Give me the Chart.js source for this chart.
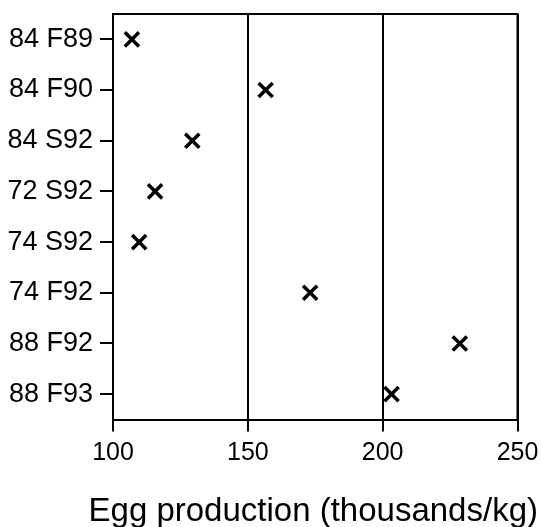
<!DOCTYPE html>
<html><head><meta charset="utf-8">
<script src="https://cdn.jsdelivr.net/npm/chart.js@4"></script>
<style>html,body{margin:0;padding:0;background:#fff}canvas{display:block}</style>
</head><body>
<canvas id="c" width="541" height="527"></canvas>
<script>
const categories = ['84 F89','84 F90','84 S92','72 S92','74 S92','74 F92','88 F92','88 F93'];
const eggProduction = [107, 156.6, 129.4, 115.6, 109.7, 173.1, 228.6, 203.3];
const xTicks = [100, 150, 200, 250];
const xTitle = 'Egg production (thousands/kg)';

const FONT = '"Liberation Sans", Arial, Helvetica, sans-serif';

const framePlugin = {
  id: 'frame',
  afterDatasetsDraw(chart) {
    const {ctx, chartArea: a} = chart;
    ctx.save();
    ctx.strokeStyle = '#000';
    ctx.lineWidth = 2;
    ctx.beginPath();
    ctx.moveTo(a.left - 1, a.top);
    ctx.lineTo(a.right, a.top);
    ctx.lineTo(a.right, a.bottom);
    ctx.stroke();
    ctx.restore();
  },
  afterDraw(chart) {
    const {ctx, chartArea: a} = chart;
    ctx.save();
    ctx.fillStyle = '#000';
    ctx.font = '33px ' + FONT;
    ctx.textAlign = 'center';
    ctx.textBaseline = 'alphabetic';
    ctx.fillText(xTitle, (a.left + a.right) / 2 - 2, a.bottom + 101);
    ctx.restore();
  }
};

new Chart(document.getElementById('c'), {
  type: 'scatter',
  data: {
    labels: categories,
    datasets: [{
      data: categories.map((c, i) => ({x: eggProduction[i], y: c})),
      pointStyle: 'crossRot',
      pointRadius: 10,
      pointBorderWidth: 3.5,
      borderColor: '#000',
      backgroundColor: '#000',
      showLine: false
    }]
  },
  options: {
    responsive: false,
    animation: false,
    devicePixelRatio: 1,
    layout: {padding: {left: 0, top: 14, right: 23.5, bottom: 0}},
    plugins: {legend: {display: false}, tooltip: {enabled: false}},
    scales: {
      x: {
        type: 'linear',
        min: 100, max: 250,
        afterBuildTicks: s => { s.ticks = xTicks.map(v => ({value: v})); },
        afterFit: s => { s.height = 107.5; s.paddingLeft = 0; s.paddingRight = 0; },
        grid: {color: '#000', lineWidth: 2, tickLength: 12, tickWidth: 2, drawOnChartArea: true},
        border: {display: true, color: '#000', width: 2},
        ticks: {color: '#000', font: {family: FONT, size: 25}, padding: 6.5, maxRotation: 0}
      },
      y: {
        type: 'category',
        labels: categories,
        offset: true,
        afterFit: s => { s.width = 113; s.paddingTop = 0; s.paddingBottom = 0; },
        grid: {offset: false, drawOnChartArea: false, drawTicks: true, tickLength: 13, color: '#000', lineWidth: 2},
        border: {display: true, color: '#000', width: 2},
        ticks: {color: '#000', font: {family: FONT, size: 27}, padding: 7}
      }
    }
  },
  plugins: [framePlugin]
});
</script>
</body></html>
